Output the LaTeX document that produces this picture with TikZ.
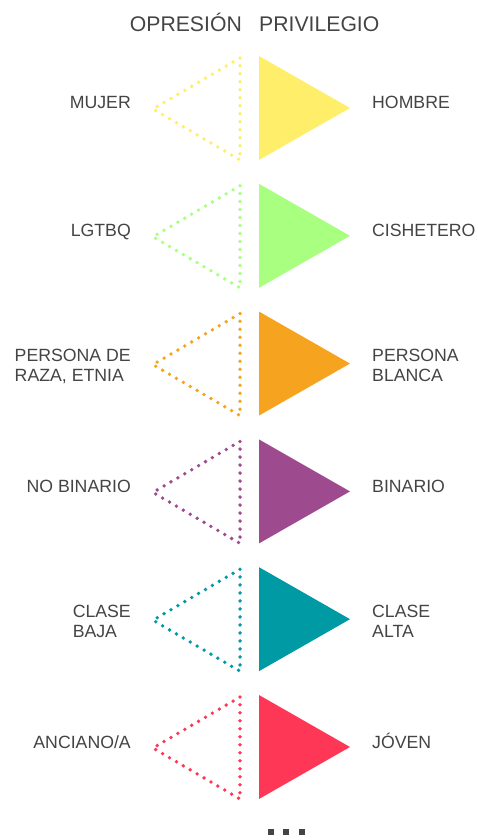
\documentclass[tikz,border=0pt]{standalone}
\usepackage{fontspec}
\setmainfont{Liberation Sans}
\definecolor{txt}{HTML}{444444}
\definecolor{cyellow}{HTML}{FFEE6A}
\definecolor{cgreen}{HTML}{A9FF80}
\definecolor{corange}{HTML}{F6A31F}
\definecolor{cpurple}{HTML}{9E4A8E}
\definecolor{cteal}{HTML}{009AA5}
\definecolor{cred}{HTML}{FF3757}
\tikzset{
  lab/.style={inner sep=0pt, text=txt, font=\fontsize{17.7}{20}\selectfont},
  ttl/.style={inner sep=0pt, text=txt, font=\fontsize{21.2}{24}\selectfont},
  dottri/.style={line width=3.8pt, line cap=round, dash pattern=on 0pt off 8pt},
  dotsq/.style={fill=txt, draw=none}
}
\begin{document}
\begin{tikzpicture}[x=1pt,y=-1pt]
\useasboundingbox (0,0) rectangle (477,840);
\node[ttl, anchor=base east] (t1) at (242,32) {OPRESIÓN};
\node[ttl, anchor=base west] (t2) at (259,32) {PRIVILEGIO};
\foreach \k/\col/\L/\R/\two in {
  0/cyellow/MUJER/HOMBRE/0,
  1/cgreen/LGTBQ/CISHETERO/0,
  2/corange/{PERSONA DE\\RAZA, ETNIA}/{PERSONA\\BLANCA}/1,
  3/cpurple/NO BINARIO/BINARIO/0,
  4/cteal/{CLASE\\BAJA}/{CLASE\\ALTA}/1,
  5/cred/{ANCIANO/A}/JÓVEN/0}{
  \pgfmathsetmacro{\c}{108+127.8*\k}
  \fill[\col] (259,\c-52) -- (350,\c) -- (259,\c+52) -- cycle;
  \draw[\col, dottri] (240,\c-50) -- (153,\c+1) -- (240,\c+52) -- cycle;
  \ifnum\two=1
    \node[lab, anchor=base east] (l\k) at (131,\c-2) {\begin{tabular}[t]{@{}l@{}}\L\end{tabular}};
    \node[lab, anchor=base west] (r\k) at (372,\c-2) {\begin{tabular}[t]{@{}l@{}}\R\end{tabular}};
  \else
    \node[lab, anchor=base east] (l\k) at (131,\c+1) {\L};
    \node[lab, anchor=base west] (r\k) at (372,\c+1) {\R};
  \fi
}
\fill[dotsq] (268,829) rectangle (274,835);
\fill[dotsq] (283,829) rectangle (289,835);
\fill[dotsq] (299,829) rectangle (305,835);
\end{tikzpicture}
\end{document}
